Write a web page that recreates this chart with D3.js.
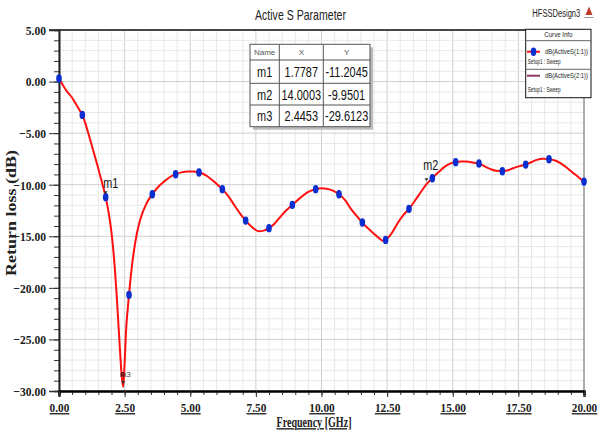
<!DOCTYPE html>
<html><head><meta charset="utf-8">
<script src="https://cdn.jsdelivr.net/npm/d3@7"></script>
<style>body{margin:0;background:#fff}svg{display:block}</style>
</head><body><svg id="c" width="598" height="435"></svg>
<script>
// ---------- DATA ----------
const xTicks = [0, 2.5, 5, 7.5, 10, 12.5, 15, 17.5, 20];
const yTicks = [5, 0, -5, -10, -15, -20, -25, -30];
// dense curve (GHz, dB)
const curveFreq = [0,0.15,0.3,0.48,0.65,0.78,0.889,1.0,1.15,1.3,1.45,1.6,1.7787,1.9,2.0,2.1,2.2,2.3,2.38,2.4453,2.5,2.56,2.62,2.667,2.75,2.85,2.95,3.05,3.15,3.3,3.45,3.556,3.8,4.0,4.2,4.444,4.7,4.9,5.1,5.333,5.6,5.8,6.0,6.222,6.45,6.67,6.9,7.111,7.35,7.6,7.8,8.0,8.2,8.44,8.65,8.889,9.18,9.5,9.778,10.0,10.2,10.45,10.667,10.9,11.1,11.33,11.556,11.8,12.0,12.2,12.36,12.444,12.65,12.9,13.1,13.333,13.6,13.8,14.0003,14.222,14.45,14.7,14.9,15.111,15.3,15.5,15.75,16.0,16.2,16.45,16.65,16.889,17.1,17.3,17.55,17.778,18.0,18.2,18.45,18.667,18.9,19.1,19.35,19.6,19.8,20.0];
const curveDb = [0.3,-0.35,-0.95,-1.5,-2.2,-2.75,-3.23,-4.03,-5.3,-6.65,-8.0,-9.43,-11.2045,-12.85,-14.65,-17.25,-20.85,-25.05,-28.25,-29.6123,-27.3,-23.9,-22.0,-20.68,-18.5,-16.5,-14.95,-13.8,-12.95,-12.0,-11.3,-10.92,-10.15,-9.7,-9.3,-8.98,-8.78,-8.72,-8.72,-8.82,-9.1,-9.47,-9.9,-10.43,-11.1,-11.95,-12.8,-13.48,-14.1,-14.5,-14.45,-14.21,-13.8,-13.09,-12.5,-11.95,-11.3,-10.7,-10.43,-10.34,-10.4,-10.6,-10.92,-11.5,-12.27,-13.0,-13.67,-14.3,-14.75,-15.2,-15.45,-15.35,-14.8,-13.73,-13.0,-12.34,-11.4,-10.66,-9.9501,-9.37,-8.8,-8.24,-7.95,-7.81,-7.74,-7.76,-7.84,-7.95,-8.2,-8.49,-8.65,-8.69,-8.6,-8.4,-8.2,-8.05,-7.8,-7.59,-7.48,-7.52,-7.65,-7.91,-8.35,-8.88,-9.3,-9.70];
// sweep markers shown on the curve
const pointFreq = [0,0.889,1.7787,2.667,3.556,4.444,5.333,6.222,7.111,8.0,8.889,9.778,10.667,11.556,12.444,13.333,14.222,15.111,16.0,16.889,17.778,18.667,20.0];
const pointDb = [0.3,-3.23,-11.2045,-20.68,-10.92,-8.98,-8.82,-10.43,-13.48,-14.21,-11.95,-10.43,-10.92,-13.67,-15.35,-12.34,-9.37,-7.81,-7.95,-8.69,-8.05,-7.52,-9.70];
// marker table
const markerNames = ["m1","m2","m3"];
const markerX = ["1.7787","14.0003","2.4453"];
const markerY = ["-11.2045","-9.9501","-29.6123"];
const markerXv = [1.7787, 14.0003, 2.4453];
const markerYv = [-11.2045, -9.9501, -29.6123];
const legendNames = ["dB(ActiveS(1:1))","dB(ActiveS(2:1))"];
const legendSetup = ["Setup1 : Sweep","Setup1 : Sweep"];

// ---------- CHART ----------
const svg = d3.select("#c");
const x = d3.scaleLinear().domain([0,20]).range([59,584]);
const y = d3.scaleLinear().domain([-30,5]).range([391,30]);
const SERIF = "'Liberation Serif','Times New Roman',serif";
const SANS = "'Liberation Sans',Arial,sans-serif";

// horizontal squeeze via transform (keeps anchor position)
function squeezeBy(sel, sx){ sel.each(function(){ const t=d3.select(this); const x0=+(t.attr("x")||0); t.attr("x", x0/sx).attr("transform",`scale(${sx},1)`); }); }
function fitW(sel, w){ sel.each(function(){ const n=this.getComputedTextLength(); squeezeBy(d3.select(this), w/n); }); }

// grid
const g = svg.append("g");
g.selectAll(".vx").data(d3.range(0,20.001,0.5)).join("line")
  .attr("x1",d=>x(d)).attr("x2",d=>x(d)).attr("y1",y(5)).attr("y2",y(-30))
  .attr("stroke",d=>Math.abs(d/2.5-Math.round(d/2.5))<1e-6?"#cfcfcf":"#e8e8e8").attr("stroke-width",1);
g.selectAll(".hy").data(d3.range(-30,5.001,1)).join("line")
  .attr("y1",d=>y(d)).attr("y2",d=>y(d)).attr("x1",x(0)).attr("x2",x(20))
  .attr("stroke",d=>d%5===0?"#cfcfcf":"#e8e8e8").attr("stroke-width",1);

// borders
svg.append("line").attr("x1",x(20)).attr("x2",x(20)).attr("y1",y(5)).attr("y2",y(-30)).attr("stroke","#888").attr("stroke-width",1.2);
svg.append("line").attr("x1",x(0)-10).attr("x2",x(20)).attr("y1",y(5)).attr("y2",y(5)).attr("stroke","#111").attr("stroke-width",1.5);

// y axis minor + major
const yMinor = svg.append("g").attr("transform",`translate(${x(0)},0)`)
  .call(d3.axisLeft(y).tickValues(d3.range(-30,5.001,1)).tickSize(5).tickFormat(""));
const yAxis = svg.append("g").attr("transform",`translate(${x(0)},0)`)
  .call(d3.axisLeft(y).tickValues(yTicks).tickSize(10).tickPadding(3).tickFormat(d3.format(".2f")));
[yMinor,yAxis].forEach(a=>{a.select(".domain").attr("stroke","#222").attr("stroke-width",1.6); a.selectAll(".tick line").attr("stroke","#333");});
yAxis.selectAll("text").attr("font-family",SERIF).attr("font-weight","bold").attr("font-size",13.5).attr("fill","#222");
squeezeBy(yAxis.selectAll("text"),0.86);

// x axis
const xMinor = svg.append("g").attr("transform",`translate(0,${y(-30)})`)
  .call(d3.axisBottom(x).tickValues(d3.range(0,20.001,0.5)).tickSize(4).tickFormat(""));
const xAxis = svg.append("g").attr("transform",`translate(0,${y(-30)})`)
  .call(d3.axisBottom(x).tickValues(xTicks).tickSize(6).tickFormat(d3.format(".2f")));
[xMinor,xAxis].forEach(a=>{a.select(".domain").attr("stroke","#000").attr("stroke-width",2.2); a.selectAll(".tick line").attr("stroke","#333");});
xAxis.selectAll("text").attr("y",21).attr("dy",0).attr("font-family",SERIF).attr("font-weight","bold").attr("font-size",13.5).attr("fill","#222").style("text-decoration","underline");
squeezeBy(xAxis.selectAll("text"),0.84);

// axis titles
fitW(svg.append("text").attr("x",314).attr("y",427).attr("text-anchor","middle")
  .attr("font-family",SERIF).attr("font-weight","bold").attr("font-size",14).attr("fill","#222")
  .style("text-decoration","underline").text("Frequency [GHz]"), 75);
svg.append("g").attr("transform","translate(16,213) rotate(-90)").append("text").attr("text-anchor","middle")
  .attr("font-family",SERIF).attr("font-weight","bold").attr("font-size",15.5).attr("fill","#222")
  .attr("textLength",126).attr("lengthAdjust","spacingAndGlyphs").text("Return loss (dB)");

// title
fitW(svg.append("text").attr("x",300.5).attr("y",20).attr("text-anchor","middle").attr("font-family",SANS)
  .attr("font-size",14).attr("fill","#222").text("Active S Parameter"), 91);
fitW(svg.append("text").attr("x",532.3).attr("y",17).attr("font-family",SANS).attr("font-size",11).attr("fill","#222")
  .text("HFSSDesign3"), 48);
svg.append("path").attr("d","M585.5,15 L589,6.5 L592.5,15 Z").attr("fill","#c0392b");
svg.append("line").attr("x1",584.5).attr("x2",593.5).attr("y1",17.5).attr("y2",17.5).attr("stroke","#999").attr("stroke-width",1);

// curve
const curveData = curveFreq.map((f,i)=>({f, v:curveDb[i]}));
svg.append("path").datum(curveData)
  .attr("d", d3.line().x(d=>x(d.f)).y(d=>y(d.v)).curve(d3.curveMonotoneX))
  .attr("fill","none").attr("stroke","#ff1010").attr("stroke-width",2);

// points
svg.selectAll(".pt").data(pointFreq.map((f,i)=>({f,v:pointDb[i]}))).join("ellipse")
  .attr("cx",d=>x(d.f)).attr("cy",d=>y(d.v)).attr("rx",2.8).attr("ry",4.2).attr("fill","#0a2ed0");

// marker annotations
const mk = markerXv.map((f,i)=>({f,v:markerYv[i],n:markerNames[i]}));
svg.selectAll(".tri").data(mk).join("path")
  .attr("d",d=>{const cx=x(d.f), cy=y(d.v)-3; return `M${cx-2},${cy-3} L${cx+2},${cy-3} L${cx},${cy} Z`;})
  .attr("fill","#333");
[0,1].forEach(i=>{
  const d=mk[i];
  const off = i===0?[-2.4,-9]:[-3.2,-14];
  fitW(svg.append("text").attr("x",x(d.f)+off[0]).attr("y",y(d.v)+off[1]).attr("font-family",SANS).attr("font-size",14)
    .attr("fill","#111").text(d.n), 15);
});
svg.append("rect").attr("x",x(mk[2].f)-2.2).attr("y",y(mk[2].v)-15).attr("width",3.4).attr("height",4.4).attr("fill","#8b0000");
svg.append("text").attr("x",x(mk[2].f)-3.5).attr("y",y(mk[2].v)-10).attr("font-family",SANS).attr("font-size",8)
  .attr("fill","#444").text(mk[2].n);

// marker table
const tx=[250,279.3,323.3,370], ty=[44.3,60,83.3,105,126.7];
svg.append("rect").attr("x",tx[0]+3).attr("y",ty[0]+3).attr("width",tx[3]-tx[0]).attr("height",ty[4]-ty[0]).attr("fill","#bbb");
svg.append("rect").attr("x",tx[0]).attr("y",ty[0]).attr("width",tx[3]-tx[0]).attr("height",ty[4]-ty[0]).attr("fill","#fff").attr("stroke","#555");
[1,2,3].forEach(r=>svg.append("line").attr("x1",tx[0]).attr("x2",tx[3]).attr("y1",ty[r]).attr("y2",ty[r]).attr("stroke","#555"));
[1,2].forEach(c=>svg.append("line").attr("x1",tx[c]).attr("x2",tx[c]).attr("y1",ty[0]).attr("y2",ty[4]).attr("stroke","#555"));
["Name","X","Y"].forEach((h,c)=>svg.append("text").attr("x",(tx[c]+tx[c+1])/2).attr("y",55).attr("text-anchor","middle")
  .attr("font-family",SANS).attr("font-size",8).attr("fill","#555").text(h));
const cols=[markerNames,markerX,markerY];
const tab = svg.append("g");
cols.forEach((arr,c)=>arr.forEach((t,r)=>{
  tab.append("text").attr("x",(tx[c]+tx[c+1])/2).attr("y",(ty[r+1]+ty[r+2])/2+5.5).attr("text-anchor","middle")
    .attr("font-family",SANS).attr("font-size",15).attr("fill","#111").text(t);
}));
squeezeBy(tab.selectAll("text"),0.73);

// legend
const L={x:525.7,y:29.3,w:65.3,h:68.4};
svg.append("rect").attr("x",L.x).attr("y",L.y).attr("width",L.w).attr("height",L.h).attr("fill","#fff").attr("stroke","#111");
fitW(svg.append("text").attr("x",L.x+L.w/2).attr("y",37.5).attr("text-anchor","middle").attr("font-family",SANS).attr("font-size",8).attr("fill","#222")
  .text("Curve Info"), 28);
[40.7,69.3].forEach(yy=>svg.append("line").attr("x1",L.x).attr("x2",L.x+L.w).attr("y1",yy).attr("y2",yy).attr("stroke","#666"));
const lcol=["#ff1010","#8b3a62"], ly=[51.7,75.7];
legendNames.forEach((n,i)=>{
  svg.append("line").attr("x1",527).attr("x2",540).attr("y1",ly[i]).attr("y2",ly[i]).attr("stroke",lcol[i]).attr("stroke-width",2);
  if(i===0) svg.append("ellipse").attr("cx",533.5).attr("cy",ly[i]).attr("rx",2.8).attr("ry",4.2).attr("fill","#0a2ed0");
  fitW(svg.append("text").attr("x",545).attr("y",ly[i]+2.8).attr("font-family",SANS).attr("font-size",8).attr("fill","#222")
    .text(n), 43);
  fitW(svg.append("text").attr("x",527.7).attr("y",ly[i]+(i===0?12.8:16.3)).attr("font-family",SANS).attr("font-size",8).attr("fill","#222")
    .text(legendSetup[i]), 33);
});
</script></body></html>
